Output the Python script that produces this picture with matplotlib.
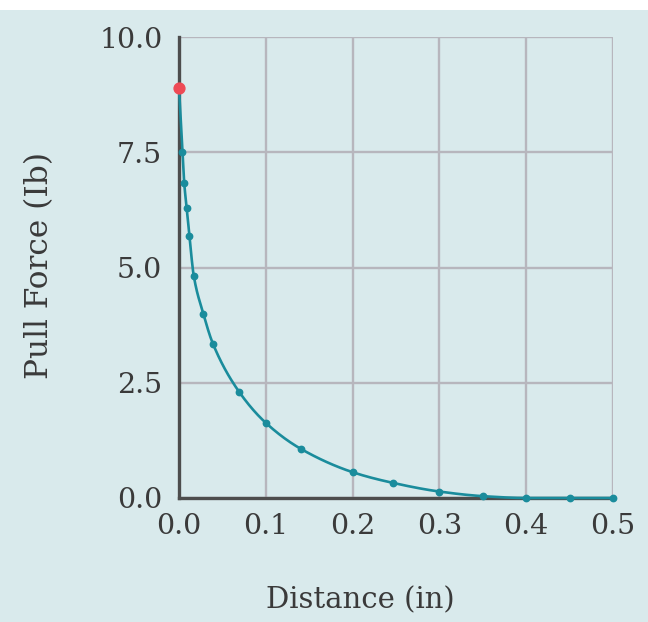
import matplotlib
matplotlib.use("Agg")
import numpy as np
import matplotlib.pyplot as plt
from matplotlib.patches import Rectangle

# Pull force of the magnet measured at increasing distances
distance_in = [0.004, 0.006, 0.009, 0.012, 0.017, 0.028, 0.039, 0.069, 0.10,
               0.14, 0.20, 0.246, 0.30, 0.35, 0.40, 0.45, 0.50]
pull_force_lb = [7.5, 6.83, 6.28, 5.69, 4.82, 4.0, 3.35, 2.31, 1.63,
                 1.07, 0.56, 0.33, 0.14, 0.04, 0.0, 0.0, 0.0]

# Contact point (zero distance)
contact_distance = 0.0
contact_force = 8.9

x_ticks = [0.0, 0.1, 0.2, 0.3, 0.4, 0.5]
y_ticks = [0.0, 2.5, 5.0, 7.5, 10.0]
x_tick_labels = ["0.0", "0.1", "0.2", "0.3", "0.4", "0.5"]
y_tick_labels = ["0.0", "2.5", "5.0", "7.5", "10.0"]

BG = "#d9eaec"
TEAL = "#1a8c9c"
RED = "#ee4a55"
GRID = "#b7b6bd"
SPINE = "#4d4d4d"
TEXT = "#3a3a3a"

plt.rcParams["font.family"] = ["DejaVu Serif"]


def monotone_curve(x, y, per_seg=24):
    """Monotone cubic Hermite path through the given points (for a smooth line)."""
    x = np.asarray(x, float)
    y = np.asarray(y, float)
    h = np.diff(x)
    d = np.diff(y) / h
    m = np.zeros_like(y)
    m[0], m[-1] = d[0], d[-1]
    for i in range(1, len(x) - 1):
        if d[i - 1] * d[i] <= 0:
            m[i] = 0.0
        else:
            w1 = 2 * h[i] + h[i - 1]
            w2 = h[i] + 2 * h[i - 1]
            m[i] = (w1 + w2) / (w1 / d[i - 1] + w2 / d[i])
    xs, ys = [], []
    for i in range(len(x) - 1):
        t = np.linspace(0, 1, per_seg, endpoint=False)
        h00 = 2 * t**3 - 3 * t**2 + 1
        h10 = t**3 - 2 * t**2 + t
        h01 = -2 * t**3 + 3 * t**2
        h11 = t**3 - t**2
        xs.append(x[i] + t * h[i])
        ys.append(h00 * y[i] + h10 * h[i] * m[i] + h01 * y[i + 1] + h11 * h[i] * m[i + 1])
    xs.append([x[-1]])
    ys.append([y[-1]])
    return np.concatenate(xs), np.concatenate(ys)


W, H = 648, 622
fig = plt.figure(figsize=(W / 100, H / 100), dpi=100, facecolor=BG)

# white strip along the top edge
fig.patches.append(Rectangle((0, 1 - 10 / H), 1, 10 / H, transform=fig.transFigure,
                             facecolor="white", edgecolor="none", zorder=0))

left, right, top, bottom = 179, 613, 37, 498
ax = fig.add_axes([left / W, 1 - bottom / H, (right - left) / W, (bottom - top) / H])
ax.set_facecolor(BG)

ax.set_xlim(0, 0.5)
ax.set_ylim(0, 10)
ax.set_xticks(x_ticks)
ax.set_xticklabels(x_tick_labels)
ax.set_yticks(y_ticks)
ax.set_yticklabels(y_tick_labels)

ax.grid(True, color=GRID, linewidth=1.7, zorder=0)
ax.set_axisbelow(True)
for side in ("top", "right"):
    ax.spines[side].set_visible(False)
for side in ("left", "bottom"):
    ax.spines[side].set_color(SPINE)
    ax.spines[side].set_linewidth(2.4)
    ax.spines[side].set_zorder(2)

ax.tick_params(axis="both", length=0, labelsize=20.5, colors=TEXT)
ax.tick_params(axis="y", pad=12)
ax.tick_params(axis="x", pad=11)

line_x = [contact_distance] + distance_in
line_y = [contact_force] + pull_force_lb
cx, cy = monotone_curve(line_x, line_y)
ax.plot(cx, cy, color=TEAL, linewidth=1.9, zorder=3, clip_on=False,
        solid_capstyle="round")
ax.plot(distance_in, pull_force_lb, "o", color=TEAL, markersize=4.6, zorder=4, clip_on=False)
ax.plot([contact_distance], [contact_force], "o", color=RED, markersize=7.8, zorder=5, clip_on=False)

fig.text(360 / W, 1 - 600 / H, "Distance (in)", fontsize=21, color=TEXT,
         ha="center", va="center")
fig.text(40 / W, 1 - 265 / H, "Pull Force (Ib)", fontsize=22.5, color=TEXT,
         ha="center", va="center", rotation=90)

fig.savefig("out.png", dpi=100, facecolor=BG)
